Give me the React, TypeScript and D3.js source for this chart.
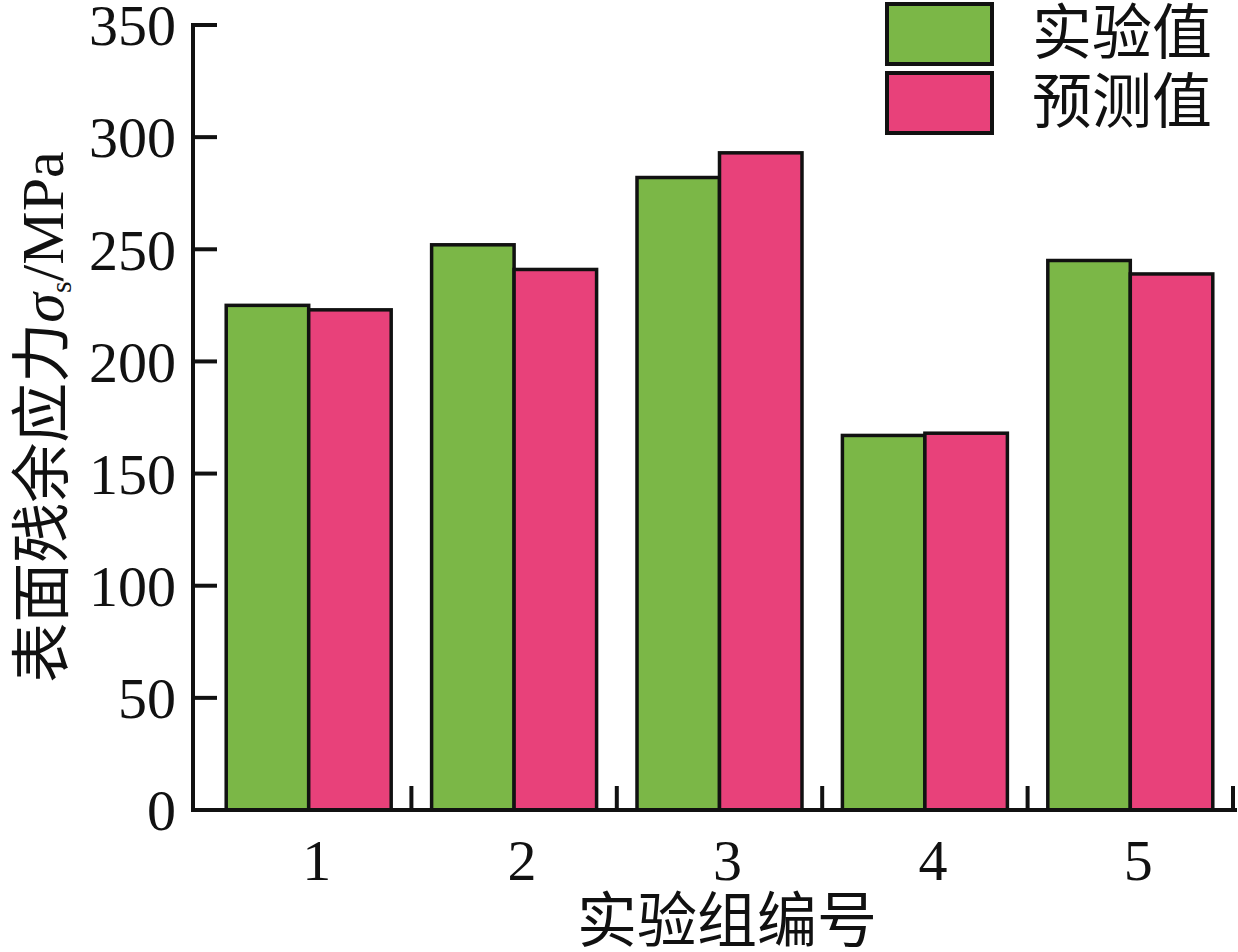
import React from "react";
import * as d3 from "d3";

const categories = ["1", "2", "3", "4", "5"];
const seriesNames = ["实验值", "预测值"];
const experimental = [225, 252, 282, 167, 245];
const predicted = [223, 241, 293, 168, 239];
const yTicks = [0, 50, 100, 150, 200, 250, 300, 350];
const colors = ["#7BB747", "#E8417A"];

const W = 1238;
const H = 952;
const axisX = 193;
const x0 = 206;
const x1 = 1233;
const yTop = 25;
const yBottom = 810;

export default function App() {
  const x = d3.scaleBand<string>().domain(categories).range([x0, x1]).paddingInner(0).paddingOuter(0);
  const inner = d3.scaleBand<string>().domain(seriesNames).range([0, x.bandwidth()]).paddingOuter(0.245).paddingInner(0);
  const y = d3.scaleLinear().domain([0, 350]).range([yBottom, yTop]);
  const series = [experimental, predicted];
  const serif = "'Liberation Serif', 'Times New Roman', serif";
  const cjk = "'Liberation Serif', 'Noto Sans CJK SC', serif";

  return (
    <svg width={W} height={H} style={{ position: "absolute", left: 0, top: 0, background: "#fff" }}>
      {series.map((vals, si) =>
        categories.map((c, i) => (
          <rect
            key={`${si}-${c}`}
            x={(x(c) as number) + (inner(seriesNames[si]) as number)}
            y={y(vals[i])}
            width={inner.bandwidth()}
            height={y(0) - y(vals[i])}
            fill={colors[si]}
            stroke="#111"
            strokeWidth={3.5}
          />
        ))
      )}
      {/* y axis */}
      <line x1={axisX} x2={axisX} y1={yTop - 2} y2={yBottom + 2} stroke="#111" strokeWidth={4} />
      {yTicks.map((t) => (
        <g key={t}>
          <line x1={axisX} x2={axisX + 24} y1={y(t)} y2={y(t)} stroke="#111" strokeWidth={4} />
          <text x={176} y={y(t)} dy="0.35em" textAnchor="end" fontFamily={serif} fontSize={58} fill="#111">
            {t}
          </text>
        </g>
      ))}
      {/* x axis */}
      <line x1={axisX - 2} x2={1237} y1={yBottom} y2={yBottom} stroke="#111" strokeWidth={4} />
      {categories.map((c) => (
        <line key={c} x1={(x(c) as number) + x.bandwidth()} x2={(x(c) as number) + x.bandwidth()} y1={yBottom} y2={yBottom - 24} stroke="#111" strokeWidth={4} />
      ))}
      {categories.map((c) => (
        <text key={c} x={(x(c) as number) + x.bandwidth() / 2 + 8} y={880} textAnchor="middle" fontFamily={serif} fontSize={58} fill="#111">
          {c}
        </text>
      ))}
      <text x={727} y={942} textAnchor="middle" fontFamily={cjk} fontSize={60} fill="#111">
        实验组编号
      </text>
      {/* y title */}
      <text transform={`translate(63, 417) rotate(-90)`} textAnchor="middle" fontFamily={cjk} fontSize={60} fill="#111">
        表面残余应力
        <tspan fontFamily={serif} fontStyle="italic">σ</tspan>
        <tspan fontFamily={serif} fontSize={30} dy="8">s</tspan>
        <tspan fontFamily={serif} dy="-8">/MPa</tspan>
      </text>
      {/* legend */}
      {seriesNames.map((s, i) => (
        <g key={s}>
          <rect x={887} y={4 + i * 69} width={105} height={60} fill={colors[i]} stroke="#111" strokeWidth={4} />
          <text x={1032} y={54 + i * 69} fontFamily={cjk} fontSize={60} fill="#111">
            {s}
          </text>
        </g>
      ))}
    </svg>
  );
}
